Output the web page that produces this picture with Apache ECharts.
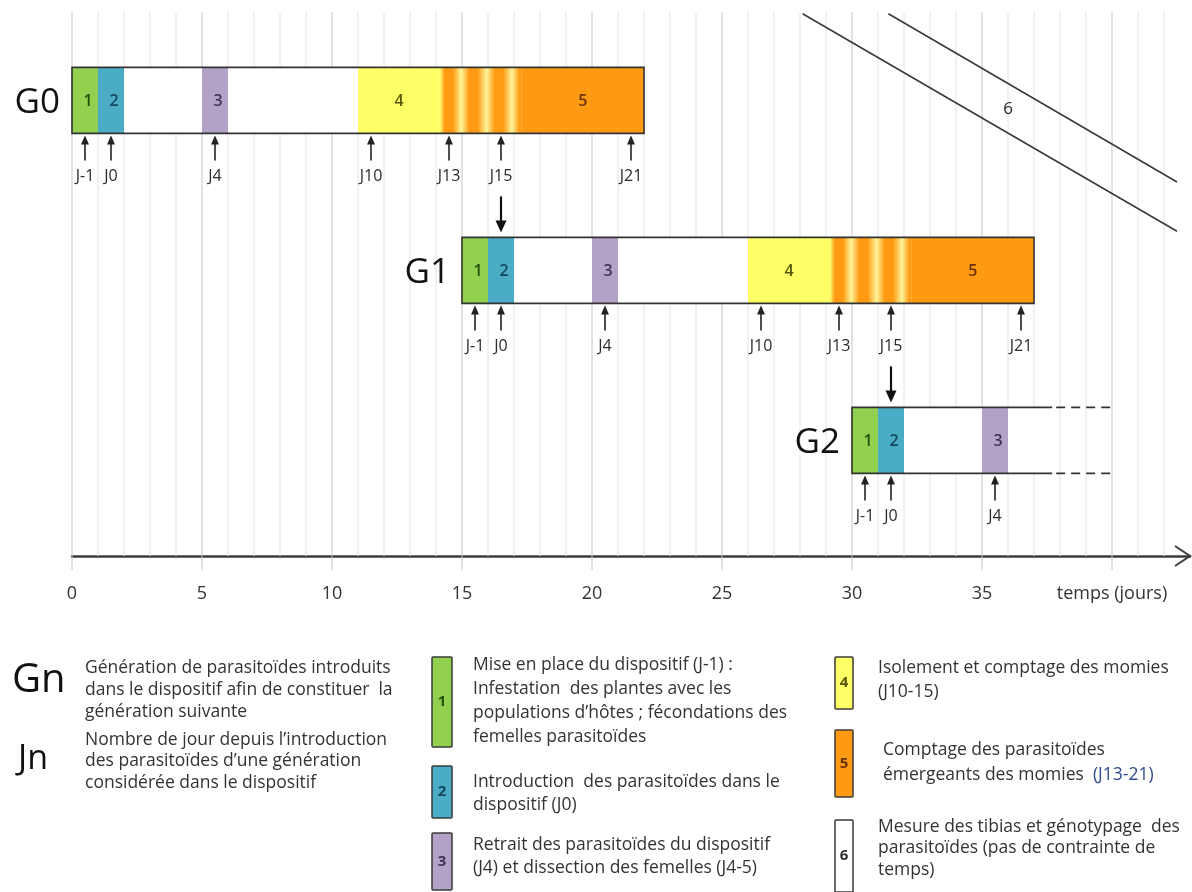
<!DOCTYPE html>
<html>
<head>
<meta charset="utf-8">
<script src="https://cdn.jsdelivr.net/npm/echarts@6/dist/echarts.min.js"></script>
<style>
    html, body { margin: 0; padding: 0; background: #fff; }
    #main { width: 1192px; height: 892px; }
</style>
</head>
<body>
<div id="main"></div>
<script>
// generations (rows) and where they start on the time axis (days)
var generations = ['G0', 'G1', 'G2'];
var genStart = [0, 15, 30];
var genRow = [0, 1, 2];
var genEnd = [22, 22, 7.7];          // length of the solid bar
var genOpenEnd = [0, 0, 10];         // dashed continuation (G2 only)

// phases, in days counted from the start of each generation
var phaseCode = ['1', '2', '3', '4', '4-5', '5'];
var phaseFrom = [0, 1, 5, 11, 14.15, 17.3];
var phaseTo = [1, 2, 6, 14.15, 17.3, 22];
var phaseCount = [6, 6, 3];

// day markers under each bar
var dayLabels = ['J-1', 'J0', 'J4', 'J10', 'J13', 'J15', 'J21'];
var dayPos = [0.5, 1.5, 5.5, 11.5, 14.5, 16.5, 21.5];
var dayCount = [7, 7, 3];

// J15 of a generation starts the next one: [day, fromRow, toRow]
var transfers = [[16.5, 0, 1], [31.5, 1, 2]];

// x axis
var xTicks = [0, 5, 10, 15, 20, 25, 30, 35, 40];
var xLabelLast = 'temps (jours)';

// phase 6 band (no time constraint): two parallel edges [x1, row1, x2, row2]
var band6 = [[28.1, -0.51, 42.5, 0.77], [31.4, -0.51, 42.5, 0.48]];
var band6Label = [36, 0.05];

// legend texts
var termNames = ['Gn', 'Jn'];
var termTexts = [
    'Génération de parasitoïdes introduits\ndans le dispositif afin de constituer  la\ngénération suivante',
    'Nombre de jour depuis l’introduction\ndes parasitoïdes d’une génération\nconsidérée dans le dispositif'
];
var legendCodes = ['1', '2', '3', '4', '5', '6'];
var legendTexts = [
    'Mise en place du dispositif (J-1) :\nInfestation  des plantes avec les\npopulations d’hôtes ; fécondations des\nfemelles parasitoïdes',
    'Introduction  des parasitoïdes dans le\ndispositif (J0)',
    'Retrait des parasitoïdes du dispositif\n(J4) et dissection des femelles (J4-5)',
    'Isolement et comptage des momies\n(J10-15)',
    'Comptage des parasitoïdes\némergeants des momies  {j|(J13-21)}',
    'Mesure des tibias et génotypage  des\nparasitoïdes (pas de contrainte de\ntemps)'
];

var phaseColor = {'1': '#92d050', '2': '#4bacc6', '3': '#b3a2c7', '4': '#ffff66', '5': '#ff9a12', '6': '#ffffff'};
var phaseInk = {'1': '#23500c', '2': '#15465c', '3': '#3f3152', '4': '#55550a', '5': '#6a3300', '6': '#333333'};

var FONT = "'Open Sans', 'Noto Sans', sans-serif";
var HALF = 33;        // half bar height, px
var ROW_MIN = -0.52;
var ROW_MAX = 2.68;

function stripeFill() {
    var o = phaseColor['5'], l = '#fff59a';
    return new echarts.graphic.LinearGradient(0, 0, 1, 0, [
        {offset: 0, color: '#ffff70'},
        {offset: 0.06, color: o},
        {offset: 0.16, color: o},
        {offset: 0.26, color: l},
        {offset: 0.36, color: o},
        {offset: 0.46, color: o},
        {offset: 0.57, color: l},
        {offset: 0.67, color: o},
        {offset: 0.77, color: o},
        {offset: 0.88, color: l},
        {offset: 0.97, color: o},
        {offset: 1, color: o}
    ]);
}

// build series data
var phaseData = [], frameData = [], dayData = [], genData = [];
for (var g = 0; g < generations.length; g++) {
    for (var i = 0; i < phaseCount[g]; i++) {
        phaseData.push([genStart[g] + phaseFrom[i], genStart[g] + phaseTo[i], genRow[g], i]);
    }
    frameData.push([genStart[g], genStart[g] + genEnd[g], genRow[g], genOpenEnd[g]]);
    for (var j = 0; j < dayCount[g]; j++) {
        dayData.push([genStart[g] + dayPos[j], genRow[g], j]);
    }
    genData.push([genStart[g], genRow[g], g]);
}
var gridDays = [];
for (var d = 0; d <= 42; d++) gridDays.push([d]);

function renderGridLine(params, api) {
    var v = api.value(0);
    var top = api.coord([v, ROW_MIN]);
    var bot = api.coord([v, ROW_MAX]);
    var major = v % 5 === 0;
    return {
        type: 'line',
        shape: {x1: top[0], y1: top[1], x2: bot[0], y2: bot[1] + (major ? 14 : 0)},
        style: {stroke: major ? '#c6c6c6' : '#e4e4e4', lineWidth: 1}
    };
}

function renderBase(params, api) {
    var a = api.coord([api.value(0), api.value(2)]);
    var b = api.coord([api.value(1), api.value(2)]);
    return {
        type: 'rect',
        shape: {x: a[0], y: a[1] - HALF, width: b[0] - a[0], height: HALF * 2},
        style: {fill: '#ffffff'}
    };
}

function renderPhase(params, api) {
    var a = api.coord([api.value(0), api.value(2)]);
    var b = api.coord([api.value(1), api.value(2)]);
    var idx = api.value(3);
    var code = phaseCode[idx];
    var children = [{
        type: 'rect',
        shape: {x: a[0], y: a[1] - HALF, width: b[0] - a[0], height: HALF * 2},
        style: {fill: idx === 4 ? stripeFill() : phaseColor[code]}
    }];
    if (idx !== 4) {
        children.push({
            type: 'text',
            style: {
                text: code, x: (a[0] + b[0]) / 2 + (idx < 3 ? 3 : 0), y: a[1] + 1,
                align: 'center', verticalAlign: 'middle',
                font: '600 16px ' + FONT, fill: phaseInk[code]
            }
        });
    }
    return {type: 'group', children: children};
}

function renderFrame(params, api) {
    var row = api.value(2), open = api.value(3);
    var a = api.coord([api.value(0), row]);
    var b = api.coord([api.value(1), row]);
    var top = a[1] - HALF, bot = a[1] + HALF;
    var st = {stroke: '#333333', lineWidth: 1.6, fill: null};
    if (!open) {
        return {type: 'rect', shape: {x: a[0], y: top, width: b[0] - a[0], height: HALF * 2}, style: st};
    }
    var c = api.coord([api.value(0) + open, row]);
    var dash = {stroke: '#333333', lineWidth: 1.6, lineDash: [9, 6]};
    return {
        type: 'group',
        children: [
            {type: 'polyline', shape: {points: [[b[0], top], [a[0], top], [a[0], bot], [b[0], bot]]}, style: st},
            {type: 'line', shape: {x1: b[0] + 4, y1: top, x2: c[0], y2: top}, style: dash},
            {type: 'line', shape: {x1: b[0] + 4, y1: bot, x2: c[0], y2: bot}, style: dash}
        ]
    };
}

function renderDayArrow(params, api) {
    var p = api.coord([api.value(0), api.value(1)]);
    var x = p[0], y = p[1] + HALF;
    return {
        type: 'group',
        children: [
            {type: 'line', shape: {x1: x, y1: y + 7, x2: x, y2: y + 27}, style: {stroke: '#222', lineWidth: 1.6}},
            {type: 'polygon', shape: {points: [[x, y + 2], [x - 4, y + 11], [x + 4, y + 11]]}, style: {fill: '#222'}},
            {
                type: 'text',
                style: {
                    text: dayLabels[api.value(2)], x: x, y: y + 43,
                    align: 'center', verticalAlign: 'middle',
                    font: '16px ' + FONT, fill: '#2a2a2a'
                }
            }
        ]
    };
}

function renderTransfer(params, api) {
    var from = api.coord([api.value(0), api.value(1)]);
    var to = api.coord([api.value(0), api.value(2)]);
    var x = from[0], y0 = from[1] + HALF + 63, tip = to[1] - HALF - 5;
    return {
        type: 'group',
        children: [
            {type: 'line', shape: {x1: x, y1: y0, x2: x, y2: tip - 8}, style: {stroke: '#111', lineWidth: 2.2}},
            {type: 'polygon', shape: {points: [[x, tip], [x - 5.5, tip - 12], [x + 5.5, tip - 12]]}, style: {fill: '#111'}}
        ]
    };
}

function renderGenLabel(params, api) {
    var p = api.coord([api.value(0), api.value(1)]);
    return {
        type: 'text',
        style: {
            text: generations[api.value(2)], x: p[0] - 12, y: p[1] + 3,
            align: 'right', verticalAlign: 'middle',
            font: '35px ' + FONT, fill: '#111'
        }
    };
}

function renderBand(params, api) {
    var a = api.coord([api.value(0), api.value(1)]);
    var b = api.coord([api.value(2), api.value(3)]);
    return {
        type: 'line',
        shape: {x1: a[0], y1: a[1], x2: b[0], y2: b[1]},
        style: {stroke: '#3a3a3a', lineWidth: 1.6}
    };
}

function renderBandLabel(params, api) {
    var p = api.coord([api.value(0), api.value(1)]);
    return {
        type: 'text',
        style: {text: '6', x: p[0], y: p[1], align: 'center', verticalAlign: 'middle', font: '17px ' + FONT, fill: '#222'}
    };
}

function renderChevron(params, api) {
    var p = api.coord([api.value(0), api.value(1)]);
    return {
        type: 'polyline',
        shape: {points: [[p[0] - 15, p[1] - 10], [p[0], p[1]], [p[0] - 15, p[1] + 10]]},
        style: {stroke: '#3c3c3c', lineWidth: 2, fill: null}
    };
}

// legend built with graphic elements
function legendGraphic() {
    var els = [];
    // Gn / Jn
    var termX = [12, 18], termY = [681, 759], termSize = [40, 34];
    var descTop = [657, 729], descLH = [22, 21.5];
    for (var t = 0; t < termNames.length; t++) {
        els.push({
            type: 'text', x: termX[t], y: termY[t],
            style: {text: termNames[t], font: termSize[t] + 'px ' + FONT, fill: '#111', align: 'left', verticalAlign: 'middle'}
        });
        els.push({
            type: 'text', x: 85, y: descTop[t],
            style: {text: termTexts[t], font: '17.5px ' + FONT, fill: '#333', lineHeight: descLH[t], align: 'left', verticalAlign: 'top'}
        });
    }
    // numbered boxes
    var boxX = [432, 432, 432, 835, 835, 835];
    var boxTop = [657, 766, 833, 657, 730, 820];
    var boxBot = [747, 818, 890, 709, 797, 892];
    var textX = [473, 473, 473, 878, 883, 878];
    var textTop = [653, 770.5, 833.5, 656, 737.5, 816];
    var textLH = [24, 23, 23, 24, 25, 21.5];
    for (var k = 0; k < legendCodes.length; k++) {
        var code = legendCodes[k];
        var w = k < 3 ? 20 : 18;
        els.push({
            type: 'rect',
            shape: {x: boxX[k], y: boxTop[k], width: w, height: boxBot[k] - boxTop[k], r: 1},
            style: {fill: phaseColor[code], stroke: '#3a3a3a', lineWidth: 1.5}
        });
        els.push({
            type: 'text', x: boxX[k] + w / 2, y: (boxTop[k] + boxBot[k]) / 2,
            style: {text: code, font: 'bold 15px ' + FONT, fill: phaseInk[code], align: 'center', verticalAlign: 'middle'}
        });
        els.push({
            type: 'text', x: textX[k], y: textTop[k],
            style: {
                text: legendTexts[k], font: '17.5px ' + FONT, fill: '#333', lineHeight: textLH[k],
                align: 'left', verticalAlign: 'top',
                rich: {j: {fill: '#2d4b8c', font: '17.5px ' + FONT, lineHeight: textLH[k]}}
            }
        });
    }
    return els;
}

var myChart = echarts.init(document.getElementById('main'));

var option = {
    animation: false,
    backgroundColor: '#ffffff',
    grid: {
        left: 72,
        right: 2,
        top: 12,
        bottom: 336,
        outerBoundsMode: 'none'
    },
    xAxis: {
        type: 'value',
        min: 0,
        max: 43,
        interval: 5,
        axisLine: {show: true, onZero: false, lineStyle: {color: '#3c3c3c', width: 2.5}},
        axisTick: {show: false},
        splitLine: {show: false},
        axisLabel: {
            customValues: xTicks,
            margin: 29,
            fontSize: 18,
            fontFamily: FONT,
            color: '#333',
            formatter: function (v) {
                if (v === 43) return '';
                return v === 40 ? xLabelLast : String(v);
            }
        }
    },
    yAxis: {
        type: 'value',
        inverse: true,
        min: ROW_MIN,
        max: ROW_MAX,
        show: false
    },
    graphic: legendGraphic(),
    series: [
        {type: 'custom', z: 1, silent: true, renderItem: renderGridLine, data: gridDays},
        {type: 'custom', z: 2, silent: true, renderItem: renderBand, data: band6},
        {type: 'custom', z: 2, silent: true, renderItem: renderBandLabel, data: [band6Label]},
        {type: 'custom', z: 3, silent: true, renderItem: renderBase, data: frameData},
        {type: 'custom', z: 4, silent: true, renderItem: renderPhase, data: phaseData},
        {type: 'custom', z: 5, silent: true, renderItem: renderFrame, data: frameData},
        {type: 'custom', z: 5, silent: true, renderItem: renderDayArrow, data: dayData},
        {type: 'custom', z: 5, silent: true, renderItem: renderTransfer, data: transfers},
        {type: 'custom', z: 5, silent: true, renderItem: renderGenLabel, data: genData},
        {type: 'custom', z: 5, silent: true, renderItem: renderChevron, data: [[43, ROW_MAX]]}
    ]
};

myChart.setOption(option);
</script>
</body>
</html>
